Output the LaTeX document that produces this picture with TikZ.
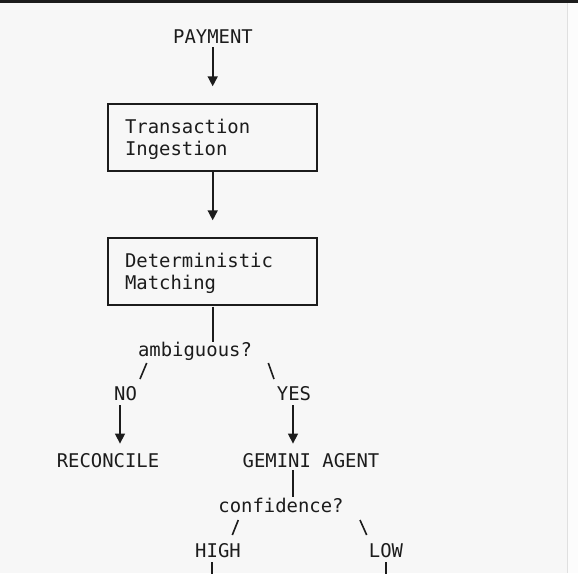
\documentclass[tikz,border=0pt]{standalone}
\usepackage{fontspec}
\newfontfamily\mono{DejaVu Sans Mono}
\usetikzlibrary{arrows.meta}
\definecolor{bg}{HTML}{F7F7F7}
\definecolor{ink}{HTML}{1C1C1C}
\begin{document}
\begin{tikzpicture}[x=1pt,y=-1pt,
  txt/.style={font=\mono\fontsize{18.9}{22.33}\selectfont, text=ink, inner sep=0pt, anchor=base},
  box/.style={draw=ink, line width=1.4pt, font=\mono\fontsize{18.9}{22.33}\selectfont, text=ink,
     text width=175pt, inner xsep=17pt, inner ysep=0pt, minimum height=67pt, align=left},
  ln/.style={draw=ink, line width=1.6pt},
  arr/.style={ln, -{Triangle[width=10pt,length=10pt]}}]
% background
\fill[bg] (0,0) rectangle (578,573);
\fill[white!60!bg] (567.5,2.5) rectangle (578,573);
\draw[black!12, line width=0.8pt] (567.5,2.5) -- (567.5,573);
\fill[ink] (0,0) rectangle (578,2.5);
\useasboundingbox (0,0) rectangle (578,573);

% nodes
\node[txt] (pay) at (213,43.5) {PAYMENT};
\node[box] (ing) at (212.5,137.5) {\rule{0pt}{17.8pt}Transaction\\Ingestion};
\node[box] (det) at (212.5,271.5) {\rule{0pt}{17.8pt}Deterministic\\Matching};
\node[txt] (amb) at (195,356.1) {ambiguous?};
\node[txt] (no) at (125.5,400.8) {NO};
\node[txt] (yes) at (294,400.8) {YES};
\node[txt] (rec) at (108,467.8) {RECONCILE};
\node[txt] (gem) at (311,467.8) {GEMINI AGENT};
\node[txt] (conf) at (281,512.5) {confidence?};
\node[txt] (high) at (218,557.2) {HIGH};
\node[txt] (low) at (386,557.2) {LOW};

% column coordinates
\coordinate (cmain) at (212.7,0);
\coordinate (cno) at (120,0);
\coordinate (cyes) at (293,0);
\coordinate (chigh) at (212,0);
\coordinate (clow) at (386,0);
\coordinate (bottom) at (0,576);

% slash ends
\coordinate (sa1) at (146.7,363);
\coordinate (sa2) at (140,379);
\coordinate (sb1) at (268.3,363);
\coordinate (sb2) at (274,379);
\coordinate (sc1) at (238.3,520);
\coordinate (sc2) at (232.3,535);
\coordinate (sd1) at (360,520);
\coordinate (sd2) at (366.7,535);

% connectors
\draw[arr, shorten <=3.5pt, shorten >=17pt] (pay.south -| cmain) -- (ing.north -| cmain);
\draw[arr, shorten >=17pt] (ing.south -| cmain) -- (det.north -| cmain);
\draw[ln, shorten <=1pt] (det.south -| cmain) -- (amb.north -| cmain);
\draw[ln] (sa1) -- (sa2);
\draw[ln] (sb1) -- (sb2);
\draw[arr, shorten <=4pt, shorten >=10pt] (no.south -| cno) -- (rec.north -| cno);
\draw[arr, shorten <=4pt, shorten >=10pt] (yes.south -| cyes) -- (gem.north -| cyes);
\draw[ln, shorten <=2pt, shorten >=1pt] (gem.south -| cyes) -- (conf.north -| cyes);
\draw[ln] (sc1) -- (sc2);
\draw[ln] (sd1) -- (sd2);
\draw[ln, shorten <=4.5pt] (high.south -| chigh) -- (bottom -| chigh);
\draw[ln, shorten <=4.5pt] (low.south -| clow) -- (bottom -| clow);
\end{tikzpicture}
\end{document}
